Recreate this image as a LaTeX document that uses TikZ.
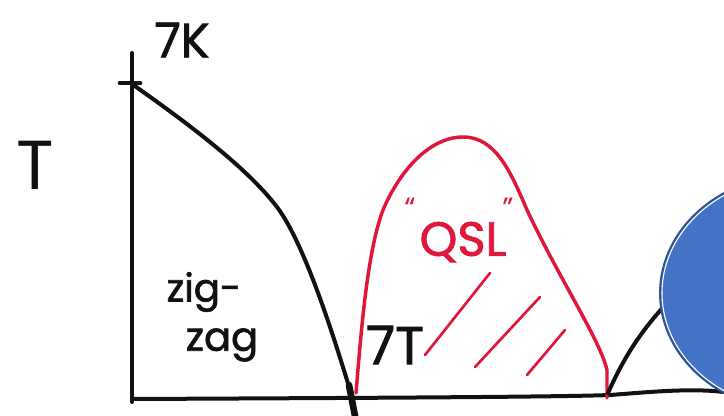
\documentclass[tikz,border=0pt]{standalone}
\usepackage{fontspec}
\setmainfont{Poppins}[BoldFont={Poppins}, BoldFeatures={FakeBold=1.6}]
\definecolor{pen}{HTML}{111111}
\definecolor{redpen}{HTML}{E0163A}
\definecolor{ellfill}{HTML}{4472C4}
\definecolor{elldraw}{HTML}{2F528F}
\tikzset{
  blackline/.style={draw=pen, line width=3pt, line cap=round, line join=round},
  redline/.style={draw=redpen, line width=2.6pt, line cap=round, line join=round},
  hand/.style={text=pen, inner sep=0pt},
}
\begin{document}
\begin{tikzpicture}[x=0.75pt,y=-0.75pt]
\useasboundingbox (0,0) rectangle (724,416);
\clip (0,0) rectangle (724,416);
\fill[white] (0,0) rectangle (724,416);
% axes
\coordinate (ytop) at (132,53);
\coordinate (ybot) at (132,402);
\coordinate (xstart) at (132,399);
\coordinate (xend) at (724,392);
\draw[blackline] (ytop) -- (ybot);
\draw[blackline] (xstart) .. controls (350,398) and (560,397) .. (610,395)
  .. controls (650,392) and (690,388) .. (xend);
% tick
\coordinate (tl) at (120,83);
\coordinate (tr) at (140,83);
\draw[blackline, line width=3.5pt] (tl) -- (tr);
% zigzag phase boundary
\coordinate (tn) at (132,84);
\coordinate (mid) at (277,207);
\coordinate (crit) at (353,400);
\draw[blackline] (tn) .. controls (180,118) and (245,165) .. (mid)
  .. controls (305,244) and (335,340) .. (crit) -- (355,416);
\draw[blackline, line width=5pt] (349,385) -- (355,416);
% red dome
\coordinate (rl) at (356,393);
\coordinate (rr) at (607,398);
\draw[redline] (rl) .. controls (362,320) and (368,250) .. (383,210)
  .. controls (400,170) and (430,137) .. (463,137)
  .. controls (495,137) and (510,170) .. (527,210)
  .. controls (560,280) and (600,340) .. (607,370) -- (rr);
\draw[redline, line width=2pt] (425,355) -- (490,273);
\draw[redline, line width=2pt] (475,367) -- (540,297);
\draw[redline, line width=2pt] (527,375) -- (565,330);
% right black boundary
\draw[blackline] (608,393) .. controls (625,355) and (645,322) .. (690,280);
% ellipse
\filldraw[fill=ellfill, draw=elldraw, line width=1.4pt] (800,293) ellipse [x radius=140, y radius=119];
\draw[white, line width=0.8pt] (800,293) ellipse [x radius=138, y radius=117];
% texts
\node[hand, font=\bfseries\fontsize{36}{36}\selectfont] (k7) at (182,40) {7K};
\node[hand, font=\fontsize{52}{52}\selectfont] (Tlabel) at (35,165) {T};
\node[hand, font=\bfseries\fontsize{29}{30}\selectfont] (zz1) at (204,292) {zig-};
\node[hand, font=\bfseries\fontsize{30}{30}\selectfont] (zz2) at (222,345) {zag};
\node[hand, font=\bfseries\fontsize{40}{40}\selectfont] (t7) at (395,345) {7T};
\node[text=redpen, inner sep=0pt, font=\bfseries\fontsize{36}{36}\selectfont] (qsl) at (463,242) {QSL};
\node[text=redpen, inner sep=0pt, font=\fontsize{22}{22}\selectfont] (q1) at (410,208) {``};
\node[text=redpen, inner sep=0pt, font=\fontsize{22}{22}\selectfont] (q2) at (508,208) {''};
\end{tikzpicture}
\end{document}
